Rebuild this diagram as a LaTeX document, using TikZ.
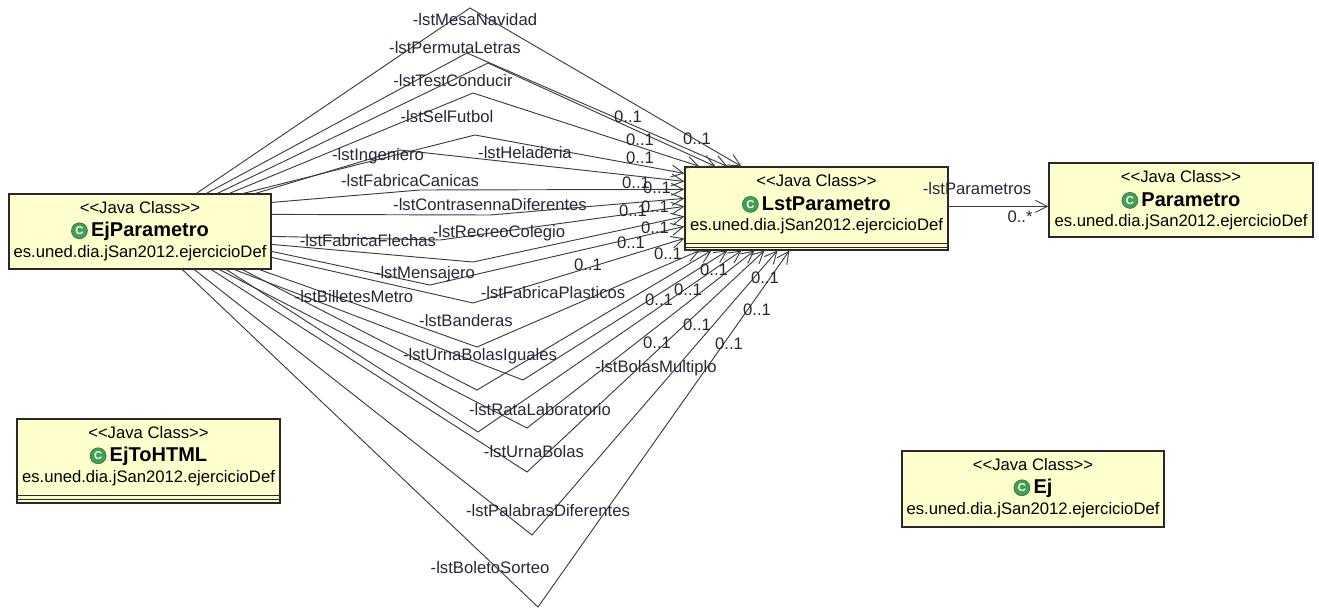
\documentclass[tikz,border=0pt]{standalone}
\usepackage{fontspec}
\setmainfont{Liberation Sans}
\usetikzlibrary{arrows.meta,calc}
\definecolor{boxfill}{RGB}{255,255,206}
\definecolor{boxline}{RGB}{40,40,40}
\definecolor{wire}{RGB}{60,60,60}
\definecolor{labeltext}{RGB}{42,36,58}
\definecolor{iconfill}{RGB}{64,160,84}
\definecolor{iconline}{RGB}{30,110,50}
\newcommand\classicon{\tikz[baseline=-0.55ex]{\fill[iconfill,draw=iconline,line width=0.4pt] (0,0) circle (6pt);
  \node[text=white,font=\bfseries\fontsize{8.5}{8.5}\selectfont,inner sep=0pt] at (0,0) {C};}}
\tikzset{
  classbox/.style={draw=boxline, fill=boxfill, line width=0.9pt, rectangle, inner sep=0pt},
  stereo/.style={font=\fontsize{12.5}{14}\selectfont, inner sep=0pt},
  cname/.style={font=\bfseries\fontsize{15}{17}\selectfont, inner sep=0pt},
  pkg/.style={font=\fontsize{12.5}{14}\selectfont, inner sep=0pt},
  assoc/.style={draw=wire, line width=0.7pt, -{Straight Barb[length=9pt,width=9pt]}},
  role/.style={font=\fontsize{12.5}{14}\selectfont, text=labeltext, inner sep=0pt},
  mult/.style={role},
}
\begin{document}
\begin{tikzpicture}[x=0.75pt,y=-0.75pt]
\useasboundingbox (0,0) rectangle (1319,607);

% class boxes
\node[classbox, minimum width=196.5pt, minimum height=56.25pt] (ejp) at (140,231.5) {};
\node[classbox, minimum width=197.25pt, minimum height=62.25pt] (lst) at (816.5,208.5) {};
\node[classbox, minimum width=198pt, minimum height=55.5pt] (par) at (1181,200) {};
\node[classbox, minimum width=197.25pt, minimum height=63pt] (html) at (148.5,461) {};
\node[classbox, minimum width=196.5pt, minimum height=57pt] (ej) at (1033,489) {};

% box contents
\foreach \b/\n in {ejp/EjParametro, lst/LstParametro, par/Parametro, html/EjToHTML, ej/Ej}{
  \node[stereo] (\b-st) at ($(\b.north)+(0,14)$) {{<}{<}Java Class{>}{>}};
  \node[cname] (\b-nm) at ($(\b.north)+(0,38)$) {\classicon\,\n};
  \node[pkg] (\b-pk) at ($(\b.north)+(0,60)$) {es.uned.dia.jSan2012.ejercicioDef};
}
% empty compartments
\draw[boxline, line width=0.9pt] ($(lst.south west)+(0,-7)$) -- ($(lst.south east)+(0,-7)$);
\draw[boxline, line width=0.9pt] ($(lst.south west)+(0,-3.5)$) -- ($(lst.south east)+(0,-3.5)$);
\draw[boxline, line width=0.9pt] ($(html.south west)+(0,-8)$) -- ($(html.south east)+(0,-8)$);
\draw[boxline, line width=0.9pt] ($(html.south west)+(0,-4)$) -- ($(html.south east)+(0,-4)$);

% associations EjParametro -> LstParametro
\draw[assoc] ($(ejp.north west)+(188,0)$) -- (470,8)   -- ($(lst.north west)+(57,0)$);
\draw[assoc] ($(ejp.north west)+(198,0)$) -- (467,53)  -- ($(lst.north west)+(43,0)$);
\draw[assoc] ($(ejp.north west)+(209,0)$) -- (488,63)  -- ($(lst.north west)+(31,0)$);
\draw[assoc] ($(ejp.north west)+(221,0)$) -- (473,93)  -- ($(lst.north west)+(15,0)$);
\draw[assoc] ($(ejp.north west)+(235,0)$) -- (475,135) -- ($(lst.north west)+(0,7)$);
\draw[assoc] ($(ejp.north west)+(247,0)$) -- (400,150) -- ($(lst.north west)+(0,15)$);
\draw[assoc] ($(ejp.north east)+(0,9)$)   -- (420,190) -- ($(lst.north west)+(0,23)$);
\draw[assoc] ($(ejp.north east)+(0,21)$)  -- (490,215) -- ($(lst.north west)+(0,32)$);
\draw[assoc] ($(ejp.north east)+(0,43)$)  -- (440,240) -- ($(lst.north west)+(0,40)$);
\draw[assoc] ($(ejp.north east)+(0,51)$)  -- (473,262) -- ($(lst.north west)+(0,50)$);
\draw[assoc] ($(ejp.north east)+(0,58)$)  -- (430,285) -- ($(lst.north west)+(0,60)$);
\draw[assoc] ($(ejp.north east)+(0,64)$)  -- (473,303) -- ($(lst.north west)+(0,72)$);
\draw[assoc] ($(ejp.south west)+(251,0)$) -- (477,347) -- ($(lst.south west)+(15,0)$);
\draw[assoc] ($(ejp.south west)+(234,0)$) -- (477,390) -- ($(lst.south west)+(27,0)$);
\draw[assoc] ($(ejp.south west)+(226,0)$) -- (523,380) -- ($(lst.south west)+(43,0)$);
\draw[assoc] ($(ejp.south west)+(218,0)$) -- (478,432) -- ($(lst.south west)+(57,0)$);
\draw[assoc] ($(ejp.south west)+(211,0)$) -- (527,428) -- ($(lst.south west)+(70,0)$);
\draw[assoc] ($(ejp.south west)+(203,0)$) -- (527,472) -- ($(lst.south west)+(80,0)$);
\draw[assoc] ($(ejp.south west)+(186,0)$) -- (532,535) -- ($(lst.south west)+(93,0)$);
\draw[assoc] ($(ejp.south west)+(174,0)$) -- (538,607) -- ($(lst.south west)+(105,0)$);

% role names
\node[role] (r1)  at (475,20)  {-lstMesaNavidad};
\node[role] (r2)  at (455,48)  {-lstPermutaLetras};
\node[role] (r3)  at (453,81)  {-lstTestConducir};
\node[role] (r4)  at (447,117) {-lstSelFutbol};
\node[role] (r5)  at (378,156) {-lstIngeniero};
\node[role] (r6)  at (525,153) {-lstHeladeria};
\node[role] (r7)  at (410,181) {-lstFabricaCanicas};
\node[role] (r8)  at (490,205) {-lstContrasennaDiferentes};
\node[role] (r9)  at (368,241) {-lstFabricaFlechas};
\node[role] (r10) at (499,233) {-lstRecreoColegio};
\node[role] (r11) at (425,274) {-lstMensajero};
\node[role] (r12) at (553,293) {-lstFabricaPlasticos};
\node[role] (r13) at (354,297) {-lstBilletesMetro};
\node[role] (r14) at (466,321) {-lstBanderas};
\node[role] (r15) at (480,356) {-lstUrnaBolasIguales};
\node[role] (r16) at (656,368) {-lstBolasMultiplo};
\node[role] (r17) at (540,410) {-lstRataLaboratorio};
\node[role] (r18) at (534,452) {-lstUrnaBolas};
\node[role] (r19) at (548,511) {-lstPalabrasDiferentes};
\node[role] (r20) at (490,568) {-lstBoletoSorteo};

% multiplicities
\foreach \p [count=\i] in {(628,117),(640,140),(697,139),(640,158),(636,183),(657,188),(633,211),(655,207),(655,228),(631,243),(668,254),(588,265),(714,270),(688,290),(659,300),(765,278),(697,325),(757,310),(657,343),(729,344)}
  \node[mult] (m\i) at \p {0..1};

% LstParametro -> Parametro
\draw[assoc] ($(lst.north east)+(0,40)$) coordinate (pa) -- (pa -| par.west);
\node[role] (rp) at (977,189) {-lstParametros};
\node[mult] (mp) at (1020,217) {0..*};
\end{tikzpicture}
\end{document}
